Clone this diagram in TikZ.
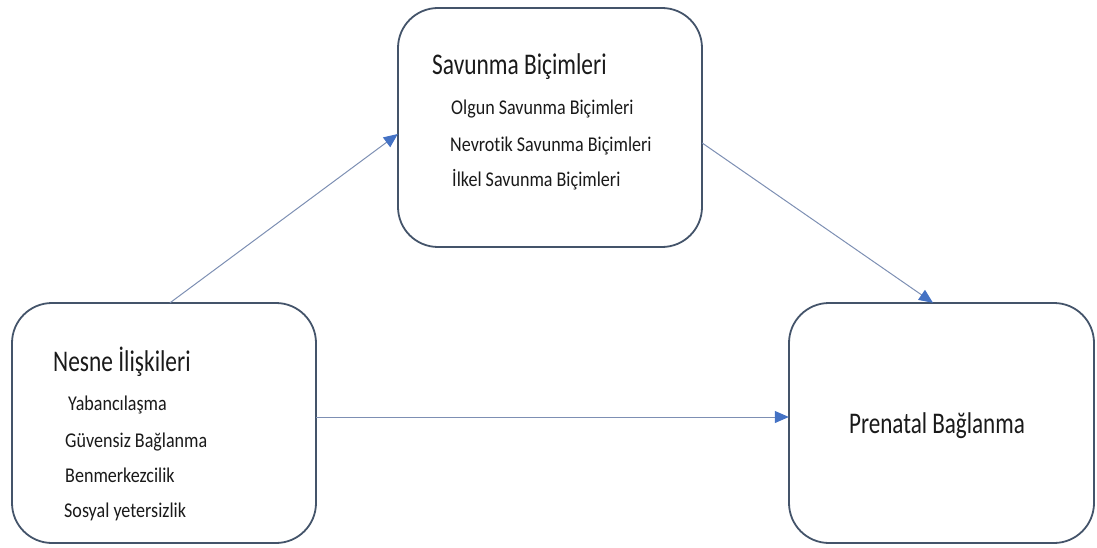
\documentclass[tikz,border=0pt]{standalone}
\usepackage{fontspec}
\setmainfont{Carlito}[Ligatures=NoCommon]
\newfontfamily\titlefont[FakeStretch=0.78,Ligatures=NoCommon]{Carlito}
\newfontfamily\subfont[FakeStretch=0.86,Ligatures=NoCommon]{Carlito}
\newfontfamily\prenfont[FakeStretch=0.77,Ligatures=NoCommon]{Carlito}
\usetikzlibrary{arrows.meta}
\definecolor{boxline}{HTML}{44546A}
\definecolor{arrline}{HTML}{7D8FB3}
\definecolor{arrhead}{HTML}{4472C4}
\definecolor{txt}{HTML}{1A1A1A}
\tikzset{
  mbox/.style={draw=boxline, line width=1.8pt, rounded corners=40pt, fill=white},
  ttl/.style={anchor=base west, inner sep=0pt, text=txt, font=\titlefont\fontsize{30}{30}\selectfont},
  itm/.style={anchor=base west, inner sep=0pt, text=txt, font=\subfont\fontsize{21}{21}\selectfont},
  conn/.style={draw=arrline, line width=1pt, -{Triangle[length=14pt,width=12pt,fill=arrhead,color=arrhead]}}
}
\begin{document}
\begin{tikzpicture}[x=1pt,y=-1pt]
\useasboundingbox (0,0) rectangle (1097,548);
% boxes
\draw[mbox] (398,8) rectangle (702,247);
\node[inner sep=0pt, minimum width=304pt, minimum height=239pt] (top) at (550,127.5) {};
\draw[mbox] (12,303) rectangle (316,543);
\node[inner sep=0pt, minimum width=304pt, minimum height=240pt] (left) at (164,423) {};
\draw[mbox] (789,303) rectangle (1094,543);
\node[inner sep=0pt, minimum width=305pt, minimum height=240pt] (right) at (941.5,423) {};
% texts
\node[ttl] (t1) at (432,75) {Savunma Biçimleri};
\node[itm] (t1a) at (451,115) {Olgun Savunma Biçimleri};
\node[itm] (t1b) at (450,152) {Nevrotik Savunma Biçimleri};
\node[itm] (t1c) at (452,187) {İlkel Savunma Biçimleri};
\node[ttl] (t2) at (53,371) {Nesne İlişkileri};
\node[itm] (t2a) at (68,410) {Yabancılaşma};
\node[itm] (t2b) at (65,447) {Güvensiz Bağlanma};
\node[itm] (t2c) at (65,482) {Benmerkezcilik};
\node[itm] (t2d) at (64,517) {Sosyal yetersizlik};
\node[anchor=base, inner sep=0pt, text=txt, font=\prenfont\fontsize{30}{30}\selectfont] (t3) at (937,433) {Prenatal Bağlanma};
% connectors
\coordinate (a1s) at (left.north west -| 170,0);
\coordinate (a1e) at (top.north west |- 0,134);
\coordinate (a2s) at (top.north east |- 0,143);
\coordinate (a2e) at (right.north west -| 933,0);
\coordinate (a3s) at (left.north east |- 0,417);
\coordinate (a3e) at (right.north west |- 0,417);
\draw[conn] (a1s) -- (a1e);
\draw[conn] (a2s) -- (a2e);
\draw[conn] (a3s) -- (a3e);
\end{tikzpicture}
\end{document}
